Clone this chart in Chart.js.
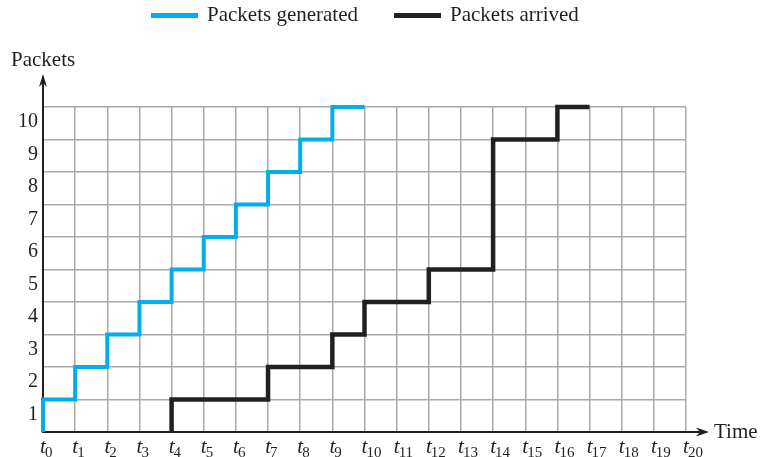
<!DOCTYPE html>
<html>
<head>
<meta charset="utf-8">
<script src="https://cdn.jsdelivr.net/npm/chart.js@4"></script>
<style>
html,body{margin:0;padding:0;background:#fff;}
#wrap{width:765px;height:457px;position:relative;}
</style>
</head>
<body>
<div id="wrap"><canvas id="c" width="765" height="457"></canvas></div>
<script>
// ---- data ----
const timeTicks = ['0','1','2','3','4','5','6','7','8','9','10','11','12','13','14','15','16','17','18','19','20'];
const yTicks = [1,2,3,4,5,6,7,8,9,10];
const generatedX = [0,0,1,2,3,4,5,6,7,8,9,10];
const generatedY = [0,1,2,3,4,5,6,7,8,9,10,10];
const arrivedX = [4,4,7,9,10,12,14,16,17];
const arrivedY = [0,1,2,3,4,5,9,10,10];
const seriesNames = ['Packets generated','Packets arrived'];
const xTitle = 'Time';
const yTitle = 'Packets';

const BLUE = '#00aeef';
const BLACK = '#231f20';
const SERIF = "'Liberation Serif','Times New Roman',serif";

const toPts = (xs, ys) => xs.map((x, i) => ({x: x, y: ys[i]}));

const decor = {
  id: 'decor',
  beforeDatasetsDraw(chart) {
    const ctx = chart.ctx;
    const xs = chart.scales.x, ys = chart.scales.y;
    const x0 = xs.getPixelForValue(0), y0 = ys.getPixelForValue(0);
    ctx.save();
    ctx.strokeStyle = BLACK; ctx.fillStyle = BLACK; ctx.lineWidth = 2;
    // x axis
    ctx.beginPath(); ctx.moveTo(x0 - 1, y0); ctx.lineTo(xs.right + 14, y0); ctx.stroke();
    const ax = xs.right + 23;
    ctx.beginPath(); ctx.moveTo(ax, y0); ctx.lineTo(ax - 13, y0 - 4.5); ctx.lineTo(ax - 9, y0); ctx.lineTo(ax - 13, y0 + 4.5); ctx.closePath(); ctx.fill();
    // y axis
    ctx.beginPath(); ctx.moveTo(x0, y0 + 1); ctx.lineTo(x0, ys.top - 25); ctx.stroke();
    const ay = ys.top - 33;
    ctx.beginPath(); ctx.moveTo(x0, ay); ctx.lineTo(x0 - 4, ay + 13); ctx.lineTo(x0, ay + 9); ctx.lineTo(x0 + 4, ay + 13); ctx.closePath(); ctx.fill();
    ctx.restore();
  },
  afterDraw(chart) {
    const ctx = chart.ctx;
    const xs = chart.scales.x, ys = chart.scales.y;
    ctx.save();
    ctx.fillStyle = BLACK;
    // x tick labels t_i
    timeTicks.forEach((sub, i) => {
      const px = xs.getPixelForValue(i);
      ctx.font = 'italic 21px ' + SERIF;
      ctx.textAlign = 'center'; ctx.textBaseline = 'alphabetic';
      ctx.fillText('t', px, 453);
      ctx.font = '15px ' + SERIF;
      ctx.textAlign = 'left';
      ctx.fillText(sub, px + 2, 457);
    });
    // axis titles
    ctx.font = '21px ' + SERIF;
    ctx.textAlign = 'left'; ctx.textBaseline = 'middle';
    ctx.fillText(xTitle, 714, ys.getPixelForValue(0));
    ctx.fillText(yTitle, 11, 60);
    // legend
    const items = chart.data.datasets.map(d => ({label: d.label, color: d.borderColor}));
    const starts = [151, 394];
    items.forEach((it, i) => {
      const sx = starts[i];
      ctx.fillStyle = it.color;
      ctx.fillRect(sx, 13, 47, 5);
      ctx.fillStyle = BLACK;
      ctx.fillText(it.label, sx + 56, 15);
    });
    ctx.restore();
  }
};

new Chart(document.getElementById('c'), {
  type: 'line',
  data: {
    datasets: [
      {label: seriesNames[0], data: toPts(generatedX, generatedY), borderColor: BLUE, backgroundColor: BLUE,
       borderWidth: 4, stepped: 'before', pointRadius: 0, borderJoinStyle: 'miter', borderCapStyle: 'butt', clip: false, fill: false},
      {label: seriesNames[1], data: toPts(arrivedX, arrivedY), borderColor: BLACK, backgroundColor: BLACK,
       borderWidth: 4.5, stepped: 'before', pointRadius: 0, borderJoinStyle: 'miter', borderCapStyle: 'butt', clip: false, fill: false}
    ]
  },
  options: {
    responsive: false,
    animation: false,
    devicePixelRatio: 1,
    layout: {padding: {top: 107, right: 79, bottom: 0, left: 0}},
    plugins: {legend: {display: false}, tooltip: {enabled: false}},
    scales: {
      x: {
        type: 'linear', min: 0, max: timeTicks.length - 1,
        ticks: {display: false, stepSize: 1},
        grid: {color: '#a9a9a9', lineWidth: 1.5, drawTicks: false},
        border: {display: false},
        afterFit(s) { s.height = 25; }
      },
      y: {
        type: 'linear', min: 0, max: yTicks[yTicks.length - 1],
        afterBuildTicks(s) { s.ticks = [0].concat(yTicks).map(v => ({value: v})); },
        ticks: {
          stepSize: 1, padding: 5, labelOffset: 15, color: BLACK,
          font: {family: SERIF, size: 20},
          callback: v => (v === 0 ? '' : String(v))
        },
        grid: {color: '#a9a9a9', lineWidth: 1.5, drawTicks: false},
        border: {display: false},
        afterFit(s) { s.width = 43; }
      }
    }
  },
  plugins: [decor]
});
</script>
</body>
</html>
